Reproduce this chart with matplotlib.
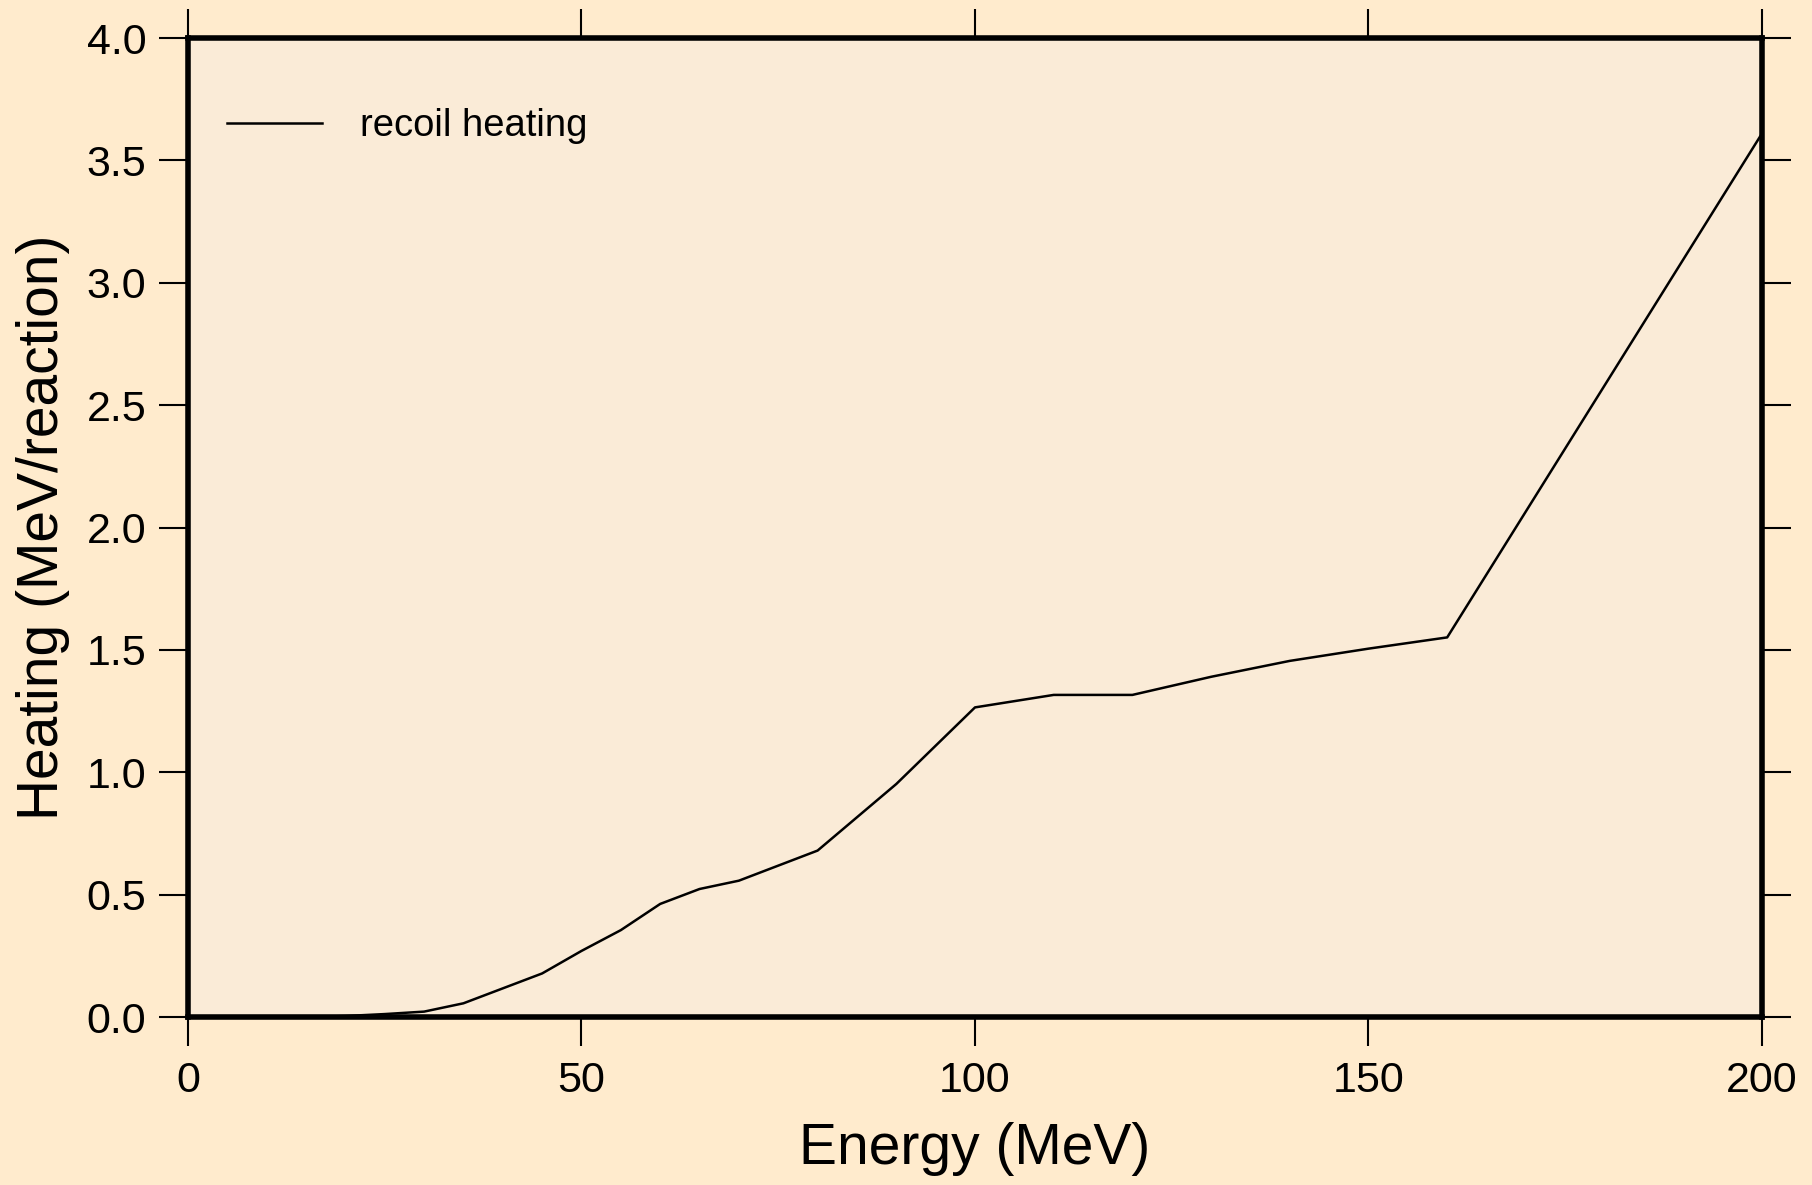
import matplotlib
matplotlib.use("Agg")
import matplotlib.pyplot as plt

plt.rcParams['font.family'] = ['Liberation Sans', 'DejaVu Sans']

# recoil heating
energy = [0, 5, 10, 15, 20, 25, 30, 35, 40, 45, 50, 55, 60, 65, 70,
          80, 90, 100, 110, 120, 130, 140, 150, 160, 200]
heating = [0, 0, 0, 0, 0.004, 0.012, 0.022, 0.056, 0.117, 0.178, 0.27,
           0.355, 0.462, 0.523, 0.557, 0.68, 0.952, 1.265, 1.316, 1.316,
           1.39, 1.455, 1.505, 1.551, 3.61]

fig = plt.figure(figsize=(18.12, 11.85), dpi=100, facecolor='#FFEBCD')
ax = fig.add_axes([0.10375, 0.14177, 0.86865, 0.82616])
ax.set_facecolor('#FAEBD7')

ax.plot(energy, heating, color='black', lw=1.8, label='recoil heating')

ax.set_xlim(0, 200)
ax.set_ylim(0, 4.0)
ax.set_xticks([0, 50, 100, 150, 200])
ax.set_yticks([0, 0.5, 1.0, 1.5, 2.0, 2.5, 3.0, 3.5, 4.0])
ax.set_yticklabels(['0.0', '0.5', '1.0', '1.5', '2.0', '2.5', '3.0', '3.5', '4.0'])

for s in ax.spines.values():
    s.set_linewidth(4)
ax.tick_params(direction='out', length=21, width=1.5, labelsize=31,
               top=True, right=True, pad=9)
ax.tick_params(axis='x', pad=10.5)

ax.set_xlabel('Energy (MeV)', fontsize=41, labelpad=15)
ax.set_ylabel('Heating (MeV/reaction)', fontsize=41, labelpad=12)

ax.legend(loc='center left', bbox_to_anchor=(0.0245, 0.910), frameon=False,
          fontsize=27.5, handlelength=2.5, handletextpad=1.0,
          borderpad=0, borderaxespad=0)

fig.savefig('out.png', dpi=100, facecolor=fig.get_facecolor())
